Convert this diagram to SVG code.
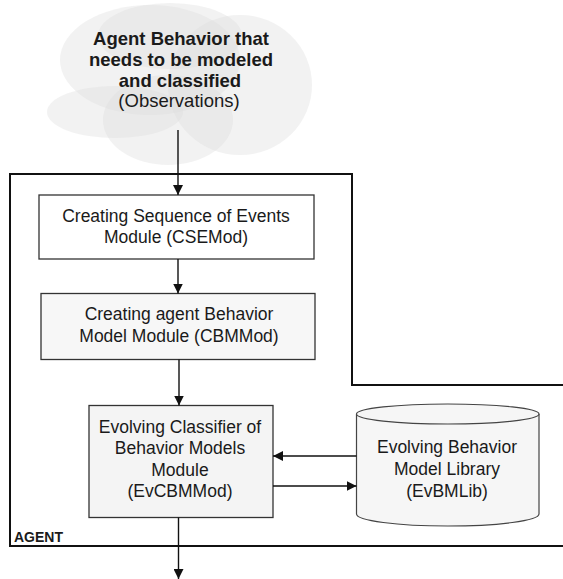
<svg xmlns="http://www.w3.org/2000/svg" width="563" height="579" viewBox="0 0 563 579">
<style>
text{font-family:"Liberation Sans",Arial,sans-serif;fill:#1a1a1a;text-anchor:middle}
.t{font-size:17.5px}
.b{font-weight:bold}
.box{stroke:#333;stroke-width:1.3}
.blob{fill:#dcdcdc;fill-opacity:0.38}
.ln{stroke:#111;stroke-width:1.4;fill:none}
</style>
<defs>
<marker id="ah" viewBox="0 0 10 10" refX="10" refY="5" markerWidth="10" markerHeight="10" markerUnits="userSpaceOnUse" orient="auto">
<path d="M0,0 L10,5 L0,10 z" fill="#111"/>
</marker>
</defs>
<rect width="563" height="579" fill="#fff"/>
<g id="cloud">
<ellipse class="blob" cx="150" cy="60" rx="90" ry="55"/>
<ellipse class="blob" cx="240" cy="85" rx="72" ry="70"/>
<ellipse class="blob" cx="115" cy="112" rx="68" ry="26"/>
<ellipse class="blob" cx="168" cy="120" rx="65" ry="45"/>
<ellipse class="blob" cx="170" cy="36" rx="72" ry="33"/>
<text class="b" font-size="18.5" x="181" y="45">Agent Behavior that</text>
<text class="b" font-size="18.5" x="181" y="66">needs to be modeled</text>
<text class="b" font-size="18.5" x="180" y="87">and classified</text>
<text font-size="18.5" x="179" y="107">(Observations)</text>
</g>
<g id="agent">
<path d="M563,385 H352 V174 H10 V546 H563" fill="none" stroke="#111" stroke-width="2"/>
<text class="b" font-size="14" x="14" y="542" style="text-anchor:start">AGENT</text>
</g>
<g id="csemod">
<rect class="box" x="39" y="195" width="275" height="64" fill="#fff"/>
<text class="t" x="176" y="222">Creating Sequence of Events</text>
<text class="t" x="176" y="243">Module (CSEMod)</text>
</g>
<g id="cbmmod">
<rect class="box" x="41" y="293.5" width="274" height="66" fill="#f7f7f7"/>
<text class="t" x="179" y="320">Creating agent Behavior</text>
<text class="t" x="179" y="341.5">Model Module (CBMMod)</text>
</g>
<g id="evcbmmod">
<rect class="box" x="89" y="405.5" width="184" height="112" fill="#f4f4f4"/>
<text class="t" x="180" y="432.5">Evolving Classifier of</text>
<text class="t" x="180" y="454">Behavior Models</text>
<text class="t" x="180" y="475.5">Module</text>
<text class="t" x="180" y="497">(EvCBMMod)</text>
</g>
<g id="evbmlib">
<path d="M356.5,414 V514 A91.25,12 0 0 0 539,514 V414" fill="#f6f6f6" stroke="#444" stroke-width="1.2"/>
<ellipse cx="447.75" cy="414" rx="91.25" ry="10" fill="#f6f6f6" stroke="#444" stroke-width="1.2"/>
<text class="t" x="447" y="453">Evolving Behavior</text>
<text class="t" x="447" y="475">Model Library</text>
<text class="t" x="447" y="497">(EvBMLib)</text>
</g>
<g id="connectors">
<line class="ln" x1="178" y1="130" x2="178" y2="195" marker-end="url(#ah)"/>
<line class="ln" x1="178" y1="259" x2="178" y2="293.5" marker-end="url(#ah)"/>
<line class="ln" x1="179" y1="359.5" x2="179" y2="405.5" marker-end="url(#ah)"/>
<line class="ln" x1="356.5" y1="456" x2="273" y2="456" marker-end="url(#ah)"/>
<line class="ln" x1="273" y1="486" x2="356.5" y2="486" marker-end="url(#ah)"/>
<line class="ln" x1="178.5" y1="517.5" x2="178.5" y2="579" marker-end="url(#ah)"/>
</g>
</svg>
